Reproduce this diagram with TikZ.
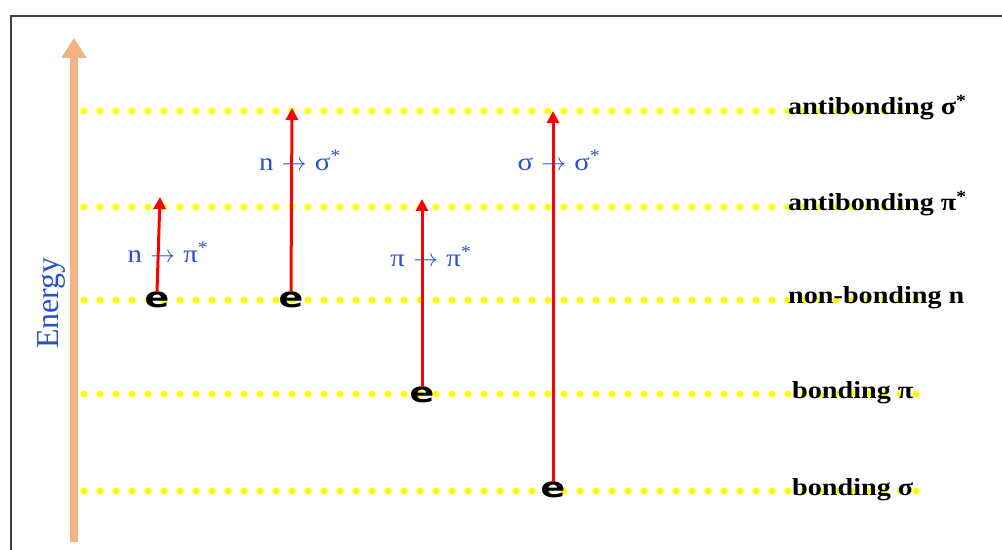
\documentclass[tikz,border=0pt]{standalone}
\usepackage{fontspec}
\setmainfont{Liberation Serif}
\newfontfamily\labfont[FakeStretch=1.15]{Liberation Serif}
\newfontfamily\efont[FakeStretch=1.3]{DejaVu Sans}
\usetikzlibrary{arrows.meta}
\definecolor{dotyellow}{RGB}{255,255,0}
\definecolor{energyc}{RGB}{244,177,131}
\definecolor{transblue}{RGB}{40,80,210}
\definecolor{framegray}{RGB}{64,64,64}
\begin{document}
\begin{tikzpicture}[x=1bp,y=-1bp,
 level/.style={dotyellow, line width=7bp, line cap=round, dash pattern=on 0bp off 16bp},
 levellabel/.style={anchor=base west, inner sep=0pt, font=\labfont\bfseries\fontsize{24.5bp}{28bp}\selectfont},
 trans/.style={inner sep=0pt, text=transblue, font=\labfont\fontsize{25bp}{28bp}\selectfont},
 elec/.style={inner sep=0pt, font=\efont\bfseries\fontsize{28bp}{32bp}\selectfont},
 excite/.style={red, line width=3bp, -{Triangle[width=12bp,length=12bp]}},
]
\useasboundingbox (0,0) rectangle (1002,550);
% frame
\coordinate (fbl) at (11,560);
\coordinate (ftl) at (11,16);
\coordinate (ftr) at (1010,16);
\draw[framegray, line width=2bp] (fbl) -- (ftl) -- (ftr);
% levels
\foreach \n/\y in {ss/111, ps/207, nn/300, pp/394, sg/491}{
  \coordinate (\n-a) at (84,\y);
  \coordinate (\n-b) at (925,\y);
  \draw[level] (\n-a) -- (\n-b);
}
% energy axis
\coordinate (ebot) at (74,542);
\coordinate (etop) at (74,38);
\draw[energyc, line width=8bp, -{Triangle[width=24bp,length=20bp]}] (ebot) -- (etop);
\node[rotate=90, text=transblue, inner sep=0pt, font=\fontsize{32bp}{36bp}\selectfont] (energylbl) at (51,303) {Energy};
% level labels
\node[levellabel] (lss) at (788,115) {antibonding σ\textsuperscript{*}};
\node[levellabel] (lps) at (788,211) {antibonding π\textsuperscript{*}};
\node[levellabel] (lnn) at (788,304) {non-bonding n};
\node[levellabel] (lpp) at (792,398) {bonding π};
\node[levellabel] (lsg) at (792,495) {bonding σ};
% electrons
\node[elec] (e1) at (157,300) {e};
\node[elec] (e2) at (291,300) {e};
\node[elec] (e3) at (422,395) {e};
\node[elec] (e4) at (553,490) {e};
% targets
\coordinate (t1) at (160,197);
\coordinate (t2) at (292,108);
\coordinate (t3) at (422,199);
\coordinate (t4) at (553,111);
\draw[excite] (e1.north) -- (t1);
\draw[excite] (e2.north) -- (t2);
\draw[excite] (e3.north) -- (t3);
\draw[excite] (e4.north) -- (t4);
% transition labels
\node[trans] (tl1) at (168,252) {n\,\,$\rightarrow$\,\,π\textsuperscript{*}};
\node[trans] (tl2) at (300,160) {n\,\,$\rightarrow$\,\,σ\textsuperscript{*}};
\node[trans] (tl3) at (431,256) {π\,\,$\rightarrow$\,\,π\textsuperscript{*}};
\node[trans] (tl4) at (559,160) {σ\,\,$\rightarrow$\,\,σ\textsuperscript{*}};
\end{tikzpicture}
\end{document}
